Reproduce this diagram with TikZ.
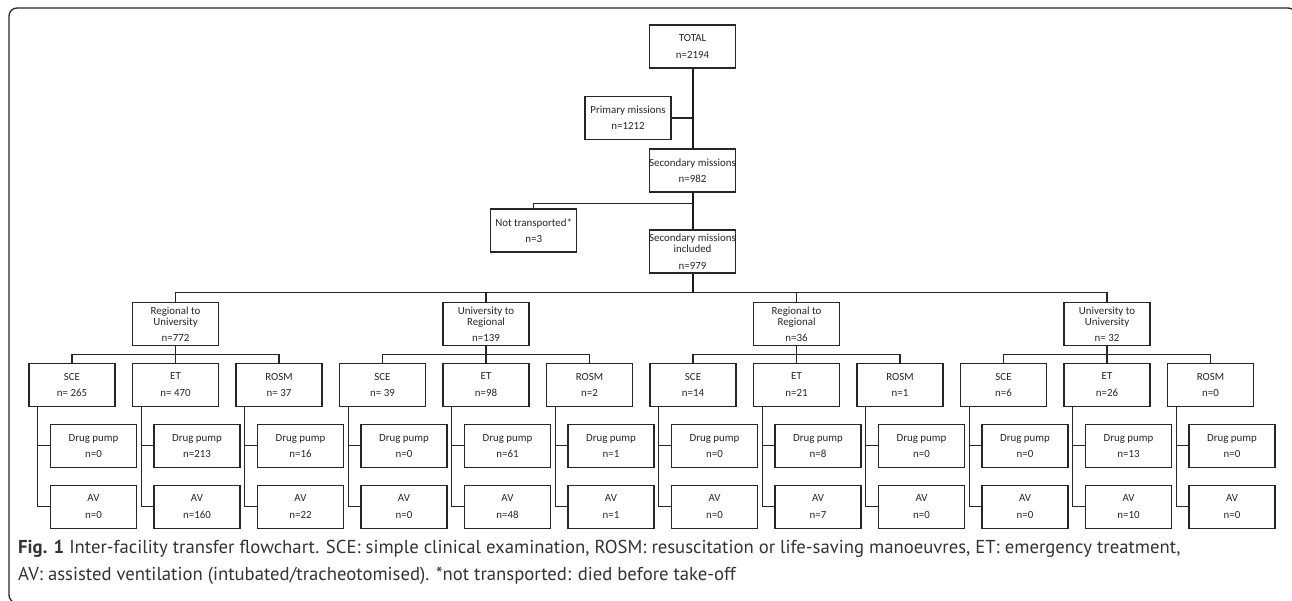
\documentclass[tikz,border=0pt]{standalone}
\usepackage{fontspec}
\setmainfont{Carlito}
\newfontfamily\capfont{PT Sans}
\usetikzlibrary{calc}
\tikzset{
  box/.style={draw=black!85, line width=1.2pt, minimum width=86pt, minimum height=43pt,
    inner sep=0pt, align=center, text=black!85, font=\fontsize{10.9}{11.3}\selectfont},
  conn/.style={draw=black!85, line width=1.3pt},
  trunk/.style={draw=black!90, line width=2pt},
  captext/.style={anchor=base west, inner sep=0pt, text=black!80, font=\capfont\fontsize{18.7}{22}\selectfont}
}
\begin{document}
\begin{tikzpicture}[x=1pt,y=-1pt]
\useasboundingbox (0,0) rectangle (1292,601);
\draw[line width=1.3pt, black!85, rounded corners=8pt] (9,8) rectangle (1296,603);

% top part
\node[box] (total) at (692.5,46.5) {TOTAL\\[5pt]n=2194};
\node[box] (primary) at (628,118) {Primary missions\\[5pt]n=1212};
\node[box] (secondary) at (692.5,170.5) {Secondary missions\\[5pt]n=982};
\node[box] (notrans) at (533.7,230.5) {Not transported*\\[5pt]n=3};
\node[box] (included) at (692.5,251.5) {Secondary missions\\included\\[5pt]n=979};

\draw[trunk] (total.south) -- (secondary.north);
\draw[conn] (primary.east) -- (primary.east -| total.south);
\draw[trunk] (secondary.south) -- (included.north);
\coordinate (ntj) at ($(secondary.south)+(0,10.7)$);
\draw[conn] (ntj) -| (notrans.north);

% level 2
\node[box] (g1) at (175.5,324.35) {Regional to\\University\\[5pt]n=772};
\node[box] (g2) at (486,324.35) {University to\\Regional\\[5pt]n=139};
\node[box] (g3) at (796.5,324.35) {Regional to\\Regional\\[5pt]n=36};
\node[box] (g4) at (1107,324.35) {University to\\University\\[5pt]n= 32};

\coordinate (busL) at ($(g1.north)+(0,-9.4)$);
\coordinate (busR) at ($(g4.north)+(0,-9.4)$);
\draw[trunk] (included.south) -- (included.south |- busL);
\draw[conn] (g1.north) -- (busL) -- (busR) -- (g4.north);
\draw[conn] (g2.north) -- (g2.north |- busL);
\draw[conn] (g3.north) -- (g3.north |- busL);

% level 3 and 4
\foreach \g/\c/\lab/\n/\dp/\av [count=\k] in {
  1/72/SCE/n= 265/0/0, 1/175.5/ET/n= 470/213/160, 1/279/ROSM/n= 37/16/22,
  2/382.5/SCE/n= 39/0/0, 2/486/ET/n=98/61/48, 2/589.5/ROSM/n=2/1/1,
  3/693/SCE/n=14/0/0, 3/796.5/ET/n=21/8/7, 3/900/ROSM/n=1/0/0,
  4/1003.5/SCE/n=6/0/0, 4/1107/ET/n=26/13/10, 4/1210.5/ROSM/n=0/0/0}{
  \node[box] (c\k) at (\c,384.65) {\lab\\[5pt]\n};
  \node[box] (d\k) at (\c+21.5,445.8) {Drug pump\\[5pt]n=\dp};
  \node[box] (a\k) at (\c+21.5,506.65) {AV\\[5pt]n=\av};
  \coordinate (v\k) at ($(c\k.south west)+(9.4,0)$);
  \draw[conn] (v\k) |- (a\k.west);
  \draw[conn] (d\k.west) -- (d\k.west -| v\k);
}
\foreach \g/\a/\b/\m in {g1/1/3/2, g2/4/6/5, g3/7/9/8, g4/10/12/11}{
  \coordinate (b\a) at ($(c\a.north)+(0,-8.3)$);
  \draw[conn] (c\a.north) -- (b\a) -- (b\a -| c\b.north) -- (c\b.north);
  \draw[conn] (\g.south) -- (c\m.north);
}

% caption
\node[captext] (cap1) at (18,553) {\textbf{Fig. 1} Inter-facility transfer flowchart. SCE: simple clinical examination, ROSM: resuscitation or life-saving manoeuvres, ET: emergency treatment,};
\node[captext] (cap2) at (18,580) {AV: assisted ventilation (intubated/tracheotomised). *not transported: died before take-off};
\end{tikzpicture}
\end{document}
